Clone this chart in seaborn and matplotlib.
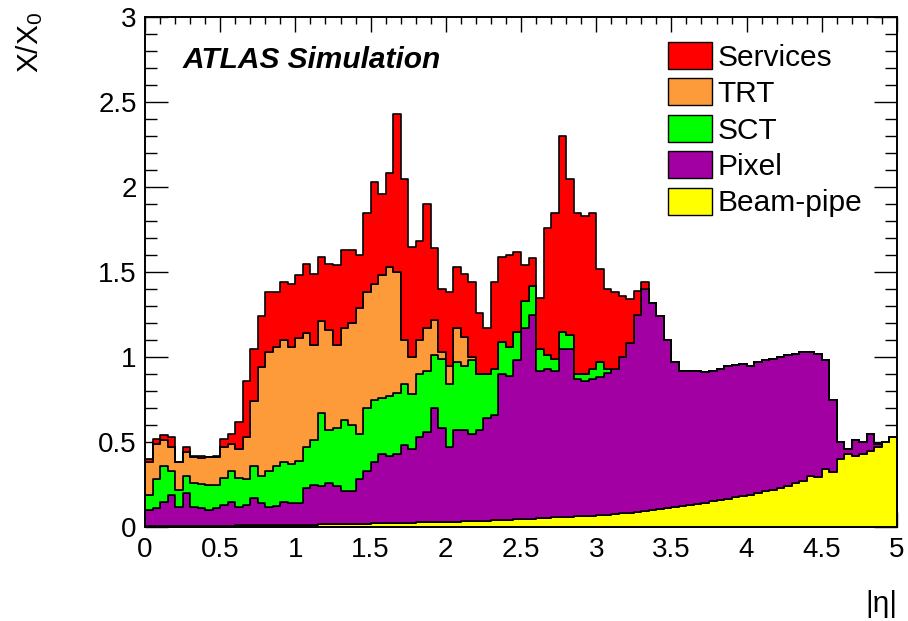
import numpy as np
import pandas as pd
import matplotlib.pyplot as plt
import seaborn as sns
from matplotlib.patches import Patch
from matplotlib.ticker import MultipleLocator

# bins of |eta|, width 0.05
bin_width = 0.05
n_bins = 100

# cumulative top of each layer (X/X0)
beam_top = [0.005, 0.005, 0.005, 0.006, 0.006, 0.006, 0.007, 0.007, 0.007, 0.008,
            0.008, 0.008, 0.009, 0.009, 0.010, 0.010, 0.011, 0.011, 0.012, 0.012,
            0.013, 0.013, 0.014, 0.015, 0.015, 0.016, 0.017, 0.018, 0.019, 0.020,
            0.021, 0.022, 0.023, 0.024, 0.025, 0.026, 0.027, 0.028, 0.029, 0.030,
            0.031, 0.032, 0.034, 0.035, 0.037, 0.038, 0.040, 0.042, 0.044, 0.046,
            0.048, 0.050, 0.052, 0.054, 0.056, 0.058, 0.060, 0.062, 0.064, 0.066,
            0.068, 0.072, 0.076, 0.080, 0.085, 0.090, 0.095, 0.100, 0.106, 0.112,
            0.118, 0.124, 0.130, 0.137, 0.144, 0.151, 0.158, 0.166, 0.174, 0.182,
            0.190, 0.200, 0.210, 0.220, 0.232, 0.244, 0.258, 0.272, 0.298, 0.292,
            0.340, 0.325, 0.400, 0.430, 0.415, 0.430, 0.450, 0.470, 0.500, 0.530]

pixel_top = [0.10, 0.11, 0.15, 0.19, 0.12, 0.20, 0.12, 0.11, 0.10, 0.11,
             0.13, 0.15, 0.12, 0.13, 0.17, 0.14,
             0.12, 0.125, 0.145, 0.14, 0.14, 0.23, 0.25, 0.24, 0.26, 0.24,
             0.21, 0.21, 0.28, 0.33,
             0.38, 0.43, 0.42, 0.43, 0.48, 0.46, 0.53, 0.56, 0.70, 0.58,
             0.47, 0.57, 0.57, 0.55,
             0.57, 0.64, 0.66, 0.90, 0.89, 0.98, 1.17, 1.25, 0.92, 0.93,
             0.92, 1.05, 1.05, 0.87,
             0.86, 0.87, 0.88, 0.905, 0.93, 1.00, 1.08, 1.25, 1.40, 1.32,
             1.24, 1.10, 0.97, 0.92,
             0.92, 0.92, 0.91, 0.92, 0.93, 0.95, 0.955, 0.96, 0.95, 0.97,
             0.98, 0.99, 1.00, 1.01, 1.02, 1.03, 1.03, 1.02,
             0.98, 0.75, 0.50, 0.46, 0.51, 0.50, 0.55, 0.49, 0.50, 0.53]

# SCT only up to |eta| ~ 3.1
sct_top = [0.19, 0.28, 0.36, 0.33, 0.22, 0.30, 0.26, 0.255, 0.245, 0.245,
           0.29, 0.33, 0.29, 0.28, 0.36, 0.30,
           0.33, 0.36, 0.38, 0.37, 0.39, 0.47, 0.51, 0.67, 0.57, 0.58,
           0.63, 0.60, 0.55, 0.70,
           0.75, 0.76, 0.77, 0.79, 0.84, 0.78, 0.90, 0.92, 1.01, 0.99,
           0.84, 0.97, 0.95, 0.98,
           0.90, 0.90, 0.93, 1.09, 1.06, 1.15, 1.33, 1.42, 1.05, 1.01,
           0.99, 1.15, 1.13, 0.90,
           0.90, 0.93, 0.97, 0.93]

# TRT only up to |eta| ~ 2.2
trt_top = [0.38, 0.49, 0.51, 0.47, 0.38, 0.44, 0.41, 0.405, 0.41, 0.41,
           0.47, 0.49, 0.46, 0.53, 0.74, 0.94,
           1.03, 1.06, 1.10, 1.06, 1.11, 1.14, 1.07, 1.21, 1.16, 1.07,
           1.17, 1.20, 1.29, 1.38,
           1.43, 1.48, 1.53, 1.50, 1.10, 1.00, 1.10, 1.17, 1.22, 1.03,
           0.95, 1.17, 1.12, 1.00]

# services only up to |eta| ~ 3.35
services_top = [0.40, 0.52, 0.54, 0.53, 0.38, 0.47, 0.42, 0.415, 0.41, 0.415,
                0.52, 0.55, 0.62, 0.86, 1.05, 1.24,
                1.38, 1.38, 1.44, 1.43, 1.48, 1.55, 1.49, 1.59, 1.55, 1.54,
                1.63, 1.63, 1.60, 1.85,
                2.03, 1.96, 2.08, 2.43, 2.05, 1.65, 1.68, 1.90, 1.64, 1.40,
                1.38, 1.53, 1.49, 1.44,
                1.26, 1.17, 1.44, 1.59, 1.60, 1.62, 1.54, 1.58, 1.35, 1.76,
                1.85, 2.30, 2.05, 1.85,
                1.83, 1.85, 1.52, 1.40, 1.38, 1.36, 1.34, 1.39, 1.44]

labels = ['Services', 'TRT', 'SCT', 'Pixel', 'Beam-pipe']
colors = {'Services': '#ff0000', 'TRT': '#fd9a3a', 'SCT': '#00ff00',
          'Pixel': '#a300a3', 'Beam-pipe': '#ffff00'}

centers = (np.arange(n_bins) + 0.5) * bin_width

beam = np.array(beam_top)
pix = np.array(pixel_top)
sct = np.concatenate([sct_top, pix[len(sct_top):]])
trt = np.concatenate([trt_top, sct[len(trt_top):]])
serv = np.concatenate([services_top, trt[len(services_top):]])

layers = {'Beam-pipe': beam, 'Pixel': pix - beam, 'SCT': sct - pix,
          'TRT': trt - sct, 'Services': serv - trt}

df = pd.concat([pd.DataFrame({'eta': centers, 'w': np.clip(v, 0, None), 'layer': k})
                for k, v in layers.items()], ignore_index=True)

sns.set_style('ticks')
plt.rcParams['font.family'] = ['Liberation Sans', 'DejaVu Sans']
plt.rcParams['mathtext.fontset'] = 'custom'
plt.rcParams['mathtext.rm'] = 'Liberation Sans'
plt.rcParams['mathtext.it'] = 'Liberation Sans:italic'
plt.rcParams['text.color'] = 'black'
plt.rcParams['xtick.color'] = 'black'
plt.rcParams['ytick.color'] = 'black'

fig = plt.figure(figsize=(9.08, 6.21), dpi=100)
ax = fig.add_axes([145 / 908, 94 / 621, 752 / 908, 510 / 621])

sns.histplot(data=df, x='eta', weights='w', hue='layer', hue_order=labels,
             multiple='stack', bins=n_bins, binrange=(0, n_bins * bin_width),
             element='step', palette=colors, alpha=1, edgecolor='black',
             linewidth=1.2, legend=False, ax=ax)

ax.set_xlim(0, 5)
ax.set_ylim(0, 3)
ax.set_xlabel('')
ax.set_ylabel('')
ax.xaxis.set_minor_locator(MultipleLocator(0.1))
ax.yaxis.set_minor_locator(MultipleLocator(0.1))
ax.set_xticks(np.arange(11) * 0.5)
ax.set_xticklabels(['0', '0.5', '1', '1.5', '2', '2.5', '3', '3.5', '4', '4.5', '5'])
ax.set_yticks(np.arange(7) * 0.5)
ax.set_yticklabels(['0', '0.5', '1', '1.5', '2', '2.5', '3'])
ax.tick_params(which='both', direction='in', top=True, right=True,
               labelsize=20, width=1.0, color='black', labelcolor='black')
ax.tick_params(axis='x', which='major', length=11, pad=7)
ax.tick_params(axis='x', which='minor', length=5)
ax.tick_params(axis='y', which='major', length=16.5, pad=6)
ax.tick_params(axis='y', which='minor', length=8.5)
for s in ax.spines.values():
    s.set_linewidth(1.4)
    s.set_color('black')

fig.text(30 / 908, 1 - 42 / 621, 'X/X$_0$', rotation=90, ha='center', va='center',
         fontsize=21.5)
fig.text(897 / 908, 1 - 604 / 621, '|η|', ha='right', va='center', fontsize=21.5)
fig.text(183 / 908, 1 - 60 / 621, 'ATLAS Simulation', ha='left', va='center',
         fontsize=21.5, fontweight='bold', fontstyle='italic')

handles = [Patch(facecolor=colors[k], edgecolor='black', linewidth=1.0) for k in labels]
ax.legend(handles, labels, loc='upper left', bbox_to_anchor=(668 / 908, 1 - 42 / 621),
          bbox_transform=fig.transFigure, frameon=False, fontsize=21.5,
          handlelength=1.47, handleheight=1.0, labelspacing=0.23,
          handletextpad=0.2, borderpad=0, borderaxespad=0)

fig.savefig('out.png', dpi=100)
